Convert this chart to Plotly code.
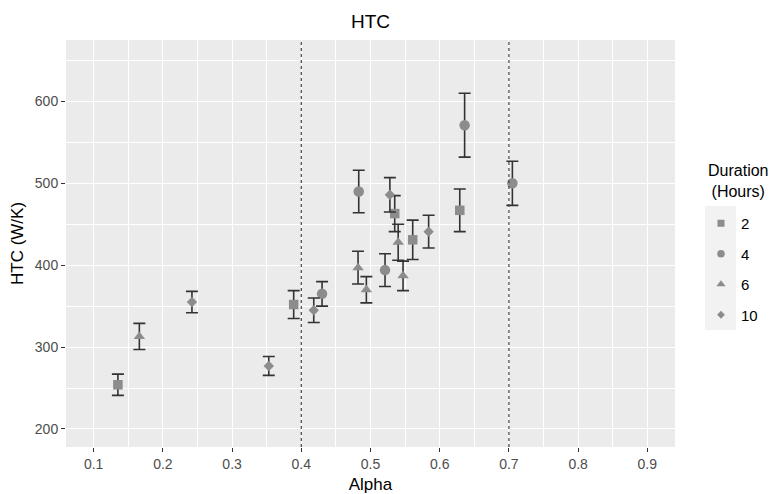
import plotly.graph_objects as go

# ---- data ----
durations = ["2", "4", "6", "10"]

alpha_2 = [0.135, 0.389, 0.535, 0.561, 0.629]
htc_2 = [254, 352, 463, 431, 467]
err_2 = [13, 17, 22, 24, 26]

alpha_4 = [0.430, 0.483, 0.521, 0.636, 0.705]
htc_4 = [365, 490, 394, 571, 500]
err_4 = [15, 26, 20, 39, 27]

alpha_6 = [0.166, 0.482, 0.494, 0.540, 0.547]
htc_6 = [313, 397, 370, 428, 387]
err_6 = [16, 20, 16, 22, 18]

alpha_10 = [0.242, 0.353, 0.418, 0.528, 0.584]
htc_10 = [355, 277, 345, 486, 441]
err_10 = [13, 11.5, 15, 21, 20]

ref_alpha = [0.4, 0.7]
x_ticks = [0.1, 0.2, 0.3, 0.4, 0.5, 0.6, 0.7, 0.8, 0.9]
y_ticks = [200, 300, 400, 500, 600]

series = {
    "2": (alpha_2, htc_2, err_2),
    "4": (alpha_4, htc_4, err_4),
    "6": (alpha_6, htc_6, err_6),
    "10": (alpha_10, htc_10, err_10),
}
symbols = {"2": "square", "4": "circle", "6": "triangle-up", "10": "diamond"}
sizes = {"2": 9.5, "4": 10.5, "6": 10, "10": 8}
legend_sizes = {"2": 7, "4": 7.5, "6": 8, "10": 6}

FONT = "Liberation Sans, Arial, sans-serif"
POINT = "#8c8c8c"

# plot-area geometry (px)
L, R, T, B = 66, 96, 40, 47
W, H = 771, 494
PW, PH = W - L - R, H - T - B


def px_x(p):
    return (p - L) / PW


def px_y(p):
    return (H - B - p) / PH


fig = go.Figure()
for d in durations:
    xs, ys, es = series[d]
    fig.add_trace(go.Scatter(
        x=xs, y=ys, mode="markers", name=d, legendgroup=d, showlegend=False,
        marker=dict(symbol=symbols[d], size=sizes[d], color=POINT, line=dict(width=0)),
        error_y=dict(type="data", array=es, color="#333333", thickness=1.6, width=6),
    ))
# legend entries (smaller keys, as in the reference)
for d in durations:
    fig.add_trace(go.Scatter(
        x=[None], y=[None], mode="markers", name=d, legendgroup=d, showlegend=True,
        marker=dict(symbol=symbols[d], size=legend_sizes[d], color=POINT, line=dict(width=0)),
    ))

for a in ref_alpha:
    fig.add_shape(type="line", xref="x", yref="paper", x0=a, x1=a, y0=0, y1=1,
                  line=dict(color="#444444", width=1.2, dash="dot"), layer="above")

# legend key background (ggplot style)
fig.add_shape(type="rect", xref="paper", yref="paper",
              x0=px_x(705), x1=px_x(736), y0=px_y(330), y1=px_y(206),
              fillcolor="#f2f2f2", line=dict(width=0), layer="below")

fig.add_annotation(text="Duration<br>(Hours)", xref="paper", yref="paper",
                   x=px_x(738), y=px_y(181), xanchor="center", yanchor="middle",
                   showarrow=False, align="center",
                   font=dict(size=16, color="#000000"))

fig.update_layout(
    width=W, height=H,
    margin=dict(l=L, r=R, t=T, b=B, autoexpand=False),
    paper_bgcolor="white", plot_bgcolor="#ebebeb",
    font=dict(family=FONT, color="#000000"),
    title=dict(text="HTC", x=(L + PW / 2) / W, xanchor="center", y=1 - 21 / H, yanchor="middle",
               font=dict(size=19, color="#000000")),
    xaxis=dict(
        range=[0.06, 0.94], tickvals=x_ticks, ticktext=[str(v) for v in x_ticks],
        showgrid=True, gridcolor="white", gridwidth=1.2, zeroline=False,
        ticks="outside", ticklen=4, tickcolor="#333333", tickwidth=1.2,
        tickfont=dict(size=14, color="#4d4d4d"),
        minor=dict(tick0=0.05, dtick=0.1, showgrid=True, gridcolor="white", gridwidth=0.6, ticks=""),
        title=dict(text="Alpha", font=dict(size=17), standoff=9),
        showline=False, automargin=False,
    ),
    yaxis=dict(
        range=[178, 675], tickvals=y_ticks,
        showgrid=True, gridcolor="white", gridwidth=1.2, zeroline=False,
        ticks="outside", ticklen=4, tickcolor="#333333", tickwidth=1.2,
        tickfont=dict(size=14, color="#4d4d4d"),
        minor=dict(tick0=250, dtick=100, showgrid=True, gridcolor="white", gridwidth=0.6, ticks=""),
        title=dict(text="HTC (W/K)", font=dict(size=17), standoff=6),
        showline=False, automargin=False,
    ),
    legend=dict(
        font=dict(size=15, color="#000000"),
        x=px_x(701), xanchor="left",
        y=px_y(207), yanchor="top",
        bgcolor="rgba(0,0,0,0)", tracegroupgap=8,
        itemsizing="trace",
    ),
    showlegend=True,
)

fig.write_html("out.html", config={"displayModeBar": False},
               post_script="document.body.style.margin='0';")
